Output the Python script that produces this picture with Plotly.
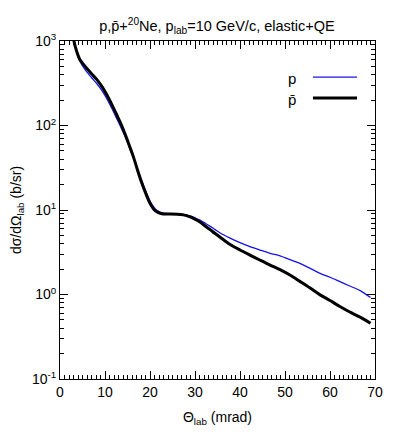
import plotly.graph_objects as go

# Theta_lab (mrad) and d sigma / d Omega_lab (b/sr)
theta = [2.8, 3.1, 3.7, 4.4, 5.2, 5.9, 7.0, 8.2, 9.3, 10.4, 11.5, 12.6, 13.7,
         14.8, 15.5, 16.3, 17.2, 18.2, 19.1, 20.0, 20.8, 21.5, 22.3, 23.0,
         24.5, 26.0, 27.4, 28.9, 30.0, 31.1, 32.2, 33.3, 34.4, 35.6, 37.8,
         40.0, 42.2, 44.4, 46.7, 48.9, 51.1, 53.3, 55.5, 57.8, 60.0, 62.2,
         64.4, 66.7, 69.0]

xs_p = [1350, 1000, 740, 580, 490, 435, 370, 312, 260, 207, 160, 121, 91,
        67, 54, 42.5, 31, 22, 16.5, 12.8, 10.9, 9.9, 9.4, 9.15,
        9.05, 9.0, 8.9, 8.5, 8.1, 7.6, 7.0, 6.45, 5.9, 5.35, 4.65,
        4.1, 3.68, 3.36, 3.07, 2.87, 2.58, 2.34, 2.05, 1.78, 1.60, 1.42,
        1.26, 1.11, 0.92]

xs_pbar = [1350, 1000, 755, 605, 530, 479, 410, 349, 290, 231, 178, 134, 100,
           71, 56, 42.8, 30, 20.7, 15.5, 12.0, 10.3, 9.55, 9.15, 8.98,
           8.95, 8.9, 8.75, 8.3, 7.8, 7.2, 6.5, 5.9, 5.3, 4.75, 3.9,
           3.36, 2.93, 2.56, 2.23, 1.97, 1.70, 1.43, 1.20, 0.99, 0.85, 0.72,
           0.62, 0.54, 0.456]

x_ticks = [0, 10, 20, 30, 40, 50, 60, 70]
y_ticks = [0.1, 1, 10, 100, 1000]
y_ticktext = ["10<sup>-1</sup>", "10<sup>0</sup>", "10<sup>1</sup>",
              "10<sup>2</sup>", "10<sup>3</sup>"]

FONT = "Liberation Sans, Arial, Helvetica, sans-serif"

fig = go.Figure()

fig.add_trace(go.Scatter(
    x=theta, y=xs_p, mode="lines", name="p",
    line=dict(color="#1414e6", width=1.3, shape="spline", smoothing=0.8),
))
fig.add_trace(go.Scatter(
    x=theta, y=xs_pbar, mode="lines", name="p̄",
    line=dict(color="black", width=3, shape="spline", smoothing=0.8),
))

# legend drawn gnuplot-style: label left of the line sample
legend_rows = [("p", "#1414e6", 1.3, 0.893), ("p̄", "black", 3, 0.831)]
for label, color, width, yk in legend_rows:
    fig.add_shape(type="line", xref="paper", yref="paper",
                  x0=0.803, x1=0.943, y0=yk, y1=yk,
                  line=dict(color=color, width=width))
    fig.add_annotation(text=label, xref="paper", yref="paper",
                       x=0.755, y=yk - 0.004, xanchor="right", yanchor="middle",
                       showarrow=False, font=dict(size=15, color="black"))

minor_y = [m * 10.0 ** e for e in range(-1, 3) for m in range(2, 10)]

axis_common = dict(
    showline=True, linecolor="black", linewidth=1, mirror="allticks",
    ticks="inside", ticklen=8, tickcolor="black", tickwidth=1,
    showgrid=False, zeroline=False, automargin=False,
    tickfont=dict(size=14, color="black", family=FONT),
)

fig.update_xaxes(
    range=[0, 70], tickvals=x_ticks,
    minor=dict(ticks="inside", ticklen=4, dtick=1, tick0=0,
               tickcolor="black", showgrid=False),
    title=dict(text="Θ<sub>lab</sub> (mrad)", font=dict(size=14, family=FONT),
               standoff=13),
    **axis_common,
)
fig.update_yaxes(
    type="log", range=[-1, 3], tickvals=y_ticks, ticktext=y_ticktext,
    minor=dict(ticks="inside", ticklen=4, tickvals=minor_y,
               tickcolor="black", showgrid=False),
    title=dict(text="dσ/dΩ<sub>lab</sub> (b/sr)", font=dict(size=14, family=FONT),
               standoff=12),
    **axis_common,
)

# page body adds an 8px margin, so the figure is 8px smaller than the window
fig.update_layout(
    width=392, height=430,
    margin=dict(l=52, r=25, t=33, b=59),
    paper_bgcolor="white", plot_bgcolor="white",
    showlegend=False,
    font=dict(family=FONT, color="black", size=14),
    title=dict(text="p,p̄+<sup>20</sup>Ne, p<sub>lab</sub>=10 GeV/c, elastic+QE",
               x=0.533, xanchor="center", y=0.971, yanchor="top",
               yref="container", font=dict(size=14.5)),
)

fig.write_html("out.html")
